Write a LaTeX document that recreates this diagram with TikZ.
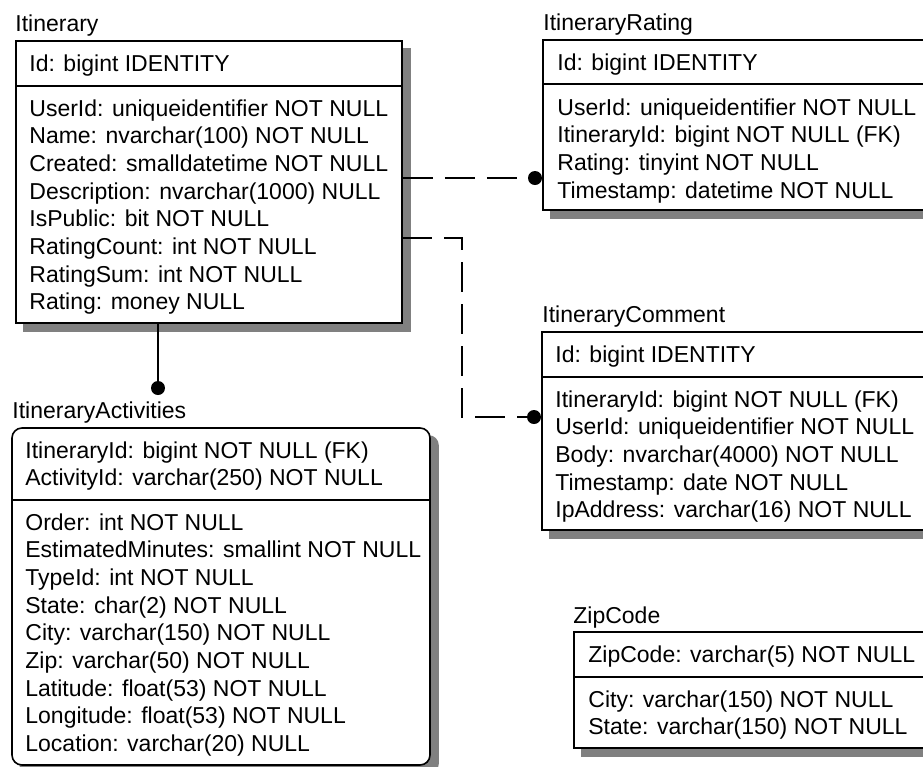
\documentclass[tikz,border=0pt]{standalone}
\usepackage{fontspec}
\setmainfont{Liberation Sans}
\usetikzlibrary{
	backgrounds,
	fit,
}

\begin{document}
\begin{tikzpicture}[x=0.5pt, y=-0.5pt,
		tbl/.style={draw, line width=0.8pt, inner sep=0pt, fill=white},
		shade/.style={fill=black!50},
		field/.style={anchor=base west, inner sep=0pt, font=\fontsize{11.5}{13}\selectfont},
		sep/.style={line width=0.8pt},
		rel/.style={line width=0.6pt, dash pattern=on 15pt off 6pt},
		fk/.style={line width=0.6pt},
		dot/.style={circle, fill=black, inner sep=0pt, minimum size=7pt},
	]
			\useasboundingbox (0,0) rectangle (923,767);
			\clip (0,0) rectangle (923,767);
			% tables
			\node[tbl, fit={(16,41) (402,323)}] (itin) {};
			\node[tbl, fit={(543,40) (935,210)}] (rating) {};
			\node[tbl, fit={(542,332) (935,530)}] (comment) {};
			\node[tbl, rounded corners=5pt, fit={(12,428) (430,765)}] (activ) {};
			\node[tbl, fit={(574,632) (935,748)}] (zip) {};
			\begin{scope}[on background layer]
				\clip (0,0) rectangle (923,767);
				\foreach \n in {itin, rating, comment, zip}
					\fill[shade] ([shift={(8,8)}]\n.north west) rectangle ([shift={(8,8)}]\n.south east);
				\fill[shade, rounded corners=5pt] ([shift={(8,8)}]activ.north west) rectangle ([shift={(8,8)}]activ.south east);
			\end{scope}
			\draw[sep] (16,86) -- (402,86);
			\draw[sep] (543,84) -- (935,84);
			\draw[sep] (542,377) -- (935,377);
			\draw[sep] (12,500) -- (430,500);
			\draw[sep] (574,677) -- (935,677);
			% titles
			\node[field] (itin-t) at (15,31) {Itinerary};
			\node[field] (rating-t) at (543,30) {ItineraryRating};
			\node[field] (comment-t) at (542,322) {ItineraryComment};
			\node[field] (activ-t) at (12,418) {ItineraryActivities};
			\node[field] (zip-t) at (573,623) {ZipCode};
			% Itinerary
			\node[field] (itin-k) at (29,71) {Id: bigint IDENTITY};
			\foreach \t [count=\i from 0] in {UserId: uniqueidentifier NOT NULL, Name: nvarchar(100) NOT NULL, Created: smalldatetime NOT NULL, Description: nvarchar(1000) NULL, IsPublic: bit NOT NULL, RatingCount: int NOT NULL, RatingSum: int NOT NULL, Rating: money NULL}
				\node[field] (itin-f\i) at (29,{116+27.7*\i}) {\t};
			% ItineraryRating
			\node[field] (rating-k) at (557,70) {Id: bigint IDENTITY};
			\foreach \t [count=\i from 0] in {UserId: uniqueidentifier NOT NULL, ItineraryId: bigint NOT NULL (FK), Rating: tinyint NOT NULL, Timestamp: datetime NOT NULL}
				\node[field] (rating-f\i) at (557,{115+27.7*\i}) {\t};
			% ItineraryComment
			\node[field] (comment-k) at (555,362) {Id: bigint IDENTITY};
			\foreach \t [count=\i from 0] in {ItineraryId: bigint NOT NULL (FK), UserId: uniqueidentifier NOT NULL, Body: nvarchar(4000) NOT NULL, Timestamp: date NOT NULL, IpAddress: varchar(16) NOT NULL}
				\node[field] (comment-f\i) at (555,{407+27.7*\i}) {\t};
			% ItineraryActivities
			\foreach \t [count=\i from 0] in {ItineraryId: bigint NOT NULL (FK), ActivityId: varchar(250) NOT NULL}
				\node[field] (activ-k\i) at (25,{458+27.7*\i}) {\t};
			\foreach \t [count=\i from 0] in {Order: int NOT NULL, EstimatedMinutes: smallint NOT NULL, TypeId: int NOT NULL, State: char(2) NOT NULL, City: varchar(150) NOT NULL, Zip: varchar(50) NOT NULL, Latitude: float(53) NOT NULL, Longitude: float(53) NOT NULL, Location: varchar(20) NULL}
				\node[field] (activ-f\i) at (25,{530+27.7*\i}) {\t};
			% ZipCode
			\node[field] (zip-k) at (588,662) {ZipCode: varchar(5) NOT NULL};
			\foreach \t [count=\i from 0] in {City: varchar(150) NOT NULL, State: varchar(150) NOT NULL}
				\node[field] (zip-f\i) at (588,{707+27.7*\i}) {\t};
			% relationships
			\node[dot] (rdot) at (535,178) {};
			\node[dot] (cdot) at (534,417) {};
			\node[dot] (adot) at (158,388) {};
			\coordinate (i-c) at (402,238);
			\coordinate (bend) at (462,417);
			\draw[rel] (itin.east |- rdot) -- (rdot);
			\draw[rel] (i-c) -| (bend) -- (cdot);
			\draw[fk] (itin.south -| adot) -- (adot);
		\end{tikzpicture}
\end{document}
